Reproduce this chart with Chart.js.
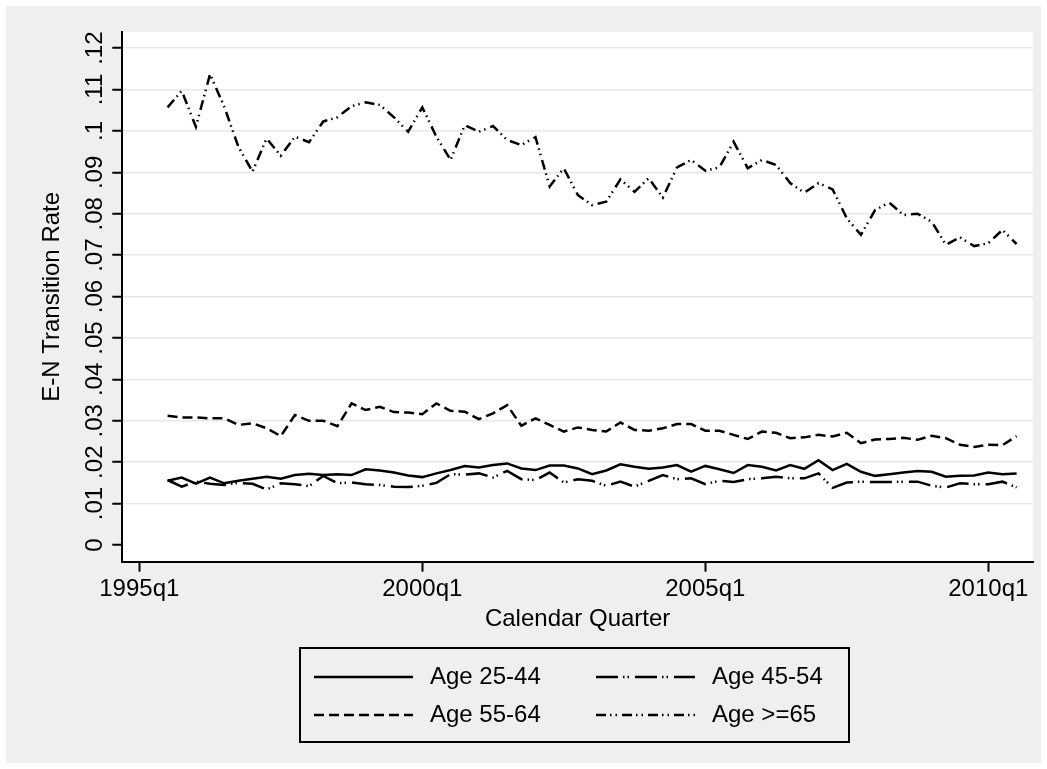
<!DOCTYPE html>
<html>
<head>
<meta charset="utf-8">
<script src="https://cdn.jsdelivr.net/npm/chart.js@4/dist/chart.umd.min.js"></script>
<style>
  html, body { margin: 0; padding: 0; background: #fff; }
</style>
</head>
<body>
<canvas id="rates" width="1047" height="769"></canvas>
<script>
// quarters covered by the series
const quarters = [
    "1995q3", "1995q4",
    "1996q1", "1996q2", "1996q3", "1996q4",
    "1997q1", "1997q2", "1997q3", "1997q4",
    "1998q1", "1998q2", "1998q3", "1998q4",
    "1999q1", "1999q2", "1999q3", "1999q4",
    "2000q1", "2000q2", "2000q3", "2000q4",
    "2001q1", "2001q2", "2001q3", "2001q4",
    "2002q1", "2002q2", "2002q3", "2002q4",
    "2003q1", "2003q2", "2003q3", "2003q4",
    "2004q1", "2004q2", "2004q3", "2004q4",
    "2005q1", "2005q2", "2005q3", "2005q4",
    "2006q1", "2006q2", "2006q3", "2006q4",
    "2007q1", "2007q2", "2007q3", "2007q4",
    "2008q1", "2008q2", "2008q3", "2008q4",
    "2009q1", "2009q2", "2009q3", "2009q4",
    "2010q1", "2010q2", "2010q3",
];

const age2544 = [
    .0155, .0163,
    .0148, .0163, .0149, .0155,
    .0160, .0165, .0160, .0169,
    .0172, .0169, .0171, .0169,
    .0183, .0180, .0175, .0168,
    .0164, .0173, .0181, .0191,
    .0187, .0193, .0197, .0185,
    .0181, .0192, .0192, .0185,
    .0171, .0180, .0195, .0189,
    .0184, .0187, .0193, .0177,
    .0191, .0183, .0174, .0193,
    .0189, .0180, .0193, .0184,
    .0205, .0181, .0196, .0177,
    .0167, .0171, .0175, .0179,
    .0177, .0165, .0167, .0168,
    .0175, .0171, .0173,
];

const age4554 = [
    .0157, .0141,
    .0153, .0148, .0145, .0150,
    .0148, .0134, .0149, .0147,
    .0142, .0167, .0149, .0151,
    .0147, .0145, .0141, .0140,
    .0143, .0150, .0171, .0170,
    .0173, .0163, .0179, .0159,
    .0157, .0175, .0151, .0159,
    .0155, .0143, .0153, .0141,
    .0155, .0169, .0159, .0161,
    .0147, .0155, .0152, .0159,
    .0161, .0165, .0161, .0161,
    .0173, .0138, .0151, .0153,
    .0152, .0152, .0153, .0153,
    .0143, .0139, .0149, .0147,
    .0147, .0153, .0139,
];

const age5564 = [
    .0312, .0308,
    .0308, .0306, .0306, .0290,
    .0294, .0282, .0263, .0314,
    .0300, .0300, .0287, .0342,
    .0326, .0334, .0321, .0320,
    .0316, .0342, .0324, .0322,
    .0304, .0318, .0338, .0288,
    .0306, .0290, .0274, .0284,
    .0278, .0274, .0296, .0278,
    .0276, .0282, .0292, .0292,
    .0276, .0276, .0266, .0256,
    .0274, .0271, .0258, .0260,
    .0266, .0262, .0271, .0246,
    .0255, .0256, .0259, .0254,
    .0264, .0258, .0242, .0237,
    .0242, .0241, .0263,
];

const age65 = [
    .1057, .1097,
    .1010, .1137, .1059, .0962,
    .0902, .0982, .0940, .0986,
    .0973, .1023, .1033, .1060,
    .1069, .1063, .1033, .0998,
    .1057, .0986, .0930, .1014,
    .0998, .1012, .0978, .0966,
    .0985, .0866, .0910, .0845,
    .0821, .0829, .0883, .0853,
    .0886, .0839, .0912, .0930,
    .0904, .0912, .0974, .0910,
    .0930, .0918, .0874, .0851,
    .0874, .0859, .0789, .0749,
    .0809, .0827, .0797, .0800,
    .0781, .0725, .0743, .0722,
    .0729, .0761, .0727,
];

const xTickLabels = ["1995q1", "2000q1", "2005q1", "2010q1"];
const yTickLabels = ["0", ".01", ".02", ".03", ".04", ".05", ".06", ".07", ".08", ".09", ".1", ".11", ".12"];

const font = { family: "'Liberation Sans', Arial, sans-serif", size: 24 };

// quarter label -> number of quarters since 1995q1
function quarterIndex(label) {
    const year = parseInt(label.slice(0, 4));
    const q = parseInt(label.slice(5));
    return (year - 1995) * 4 + (q - 1);
}

const points = (values) => values.map((v, i) => ({ x: quarterIndex(quarters[i]), y: v }));

const line = (label, values, dash) => ({
    label: label,
    data: points(values),
    borderColor: "#000",
    borderWidth: 2.5,
    borderDash: dash,
    borderCapStyle: "butt",
    pointRadius: 0,
    fill: false,
    tension: 0,
});

const frame = {
    id: "frame",
    beforeDraw(chart) {
        const { ctx, chartArea: a } = chart;
        ctx.save();
        ctx.fillStyle = "#fff";
        ctx.fillRect(0, 0, chart.width, chart.height);
        ctx.fillStyle = "#efefef";
        ctx.fillRect(6, 6, chart.width - 12, chart.height - 12);
        ctx.fillStyle = "#fff";
        ctx.fillRect(a.left, a.top, a.right - a.left, a.bottom - a.top);
        ctx.restore();
    },
    afterDraw(chart) {
        // stata style legend box under the plot
        const ctx = chart.ctx;
        ctx.save();
        ctx.strokeStyle = "#000";
        ctx.lineWidth = 2;
        ctx.setLineDash([]);
        ctx.strokeRect(300, 648, 549, 94);
        const cols = [314, 596];
        const rows = [677, 715];
        chart.data.datasets.forEach((ds, i) => {
            const x = cols[i % 2];
            const y = rows[Math.floor(i / 2)];
            ctx.setLineDash(ds.borderDash || []);
            ctx.lineWidth = ds.borderWidth;
            ctx.beginPath();
            ctx.moveTo(x, y);
            ctx.lineTo(x + 99, y);
            ctx.stroke();
            ctx.setLineDash([]);
            ctx.fillStyle = "#000";
            ctx.font = font.size + "px " + font.family;
            ctx.textBaseline = "middle";
            ctx.fillText(ds.label, x + 116, y);
        });
        ctx.restore();
    },
};

const config = {
    type: "line",
    data: {
        datasets: [
            line("Age 25-44", age2544, []),
            line("Age 45-54", age4554, [22, 5, 1.5, 3, 1.5, 6]),
            line("Age 55-64", age5564, [10, 5]),
            line("Age >=65", age65, [10, 4, 1.5, 4, 1.5, 5]),
        ],
    },
    options: {
        responsive: false,
        devicePixelRatio: 1,
        animation: false,
        layout: { padding: { left: 30, top: 32, right: 14, bottom: 132.3 } },
        plugins: {
            legend: { display: false },
            tooltip: { enabled: false },
        },
        scales: {
            x: {
                type: "linear",
                min: -1.2,
                max: 63.16,
                afterBuildTicks: (s) => { s.ticks = xTickLabels.map((l) => ({ value: quarterIndex(l) })); },
                afterFit: (s) => { s.height = 75; },
                ticks: {
                    callback: (v, i) => xTickLabels[i],
                    autoSkip: false,
                    maxRotation: 0,
                    padding: 3,
                    color: "#000",
                    font: font,
                },
                grid: { drawOnChartArea: false, tickLength: 10, tickColor: "#000", tickWidth: 2 },
                border: { display: true, color: "#000", width: 2 },
                title: { display: true, text: "Calendar Quarter", color: "#000", font: font, padding: { top: 0, bottom: 3 } },
            },
            y: {
                type: "linear",
                min: -0.00403,
                max: 0.1239,
                afterBuildTicks: (s) => { s.ticks = yTickLabels.map((l) => ({ value: parseFloat(l) })); },
                afterFit: (s) => { s.width = 92.3; },
                ticks: {
                    callback: (v, i) => yTickLabels[i],
                    minRotation: 90,
                    maxRotation: 90,
                    crossAlign: "center",
                    padding: 0,
                    color: "#000",
                    font: font,
                },
                grid: {
                    color: (c) => (c.tick && c.tick.value === 0 ? "rgba(0,0,0,0)" : "#e8e8e8"),
                    lineWidth: 1.5,
                    tickLength: 10,
                    tickColor: "#000",
                    tickWidth: 2,
                },
                border: { display: true, color: "#000", width: 2 },
                title: { display: true, text: "E-N Transition Rate", color: "#000", font: font, padding: { top: 8, bottom: 0 } },
            },
        },
    },
    plugins: [frame],
};

const ratesChart = new Chart(document.getElementById("rates"), config);
</script>
</body>
</html>
